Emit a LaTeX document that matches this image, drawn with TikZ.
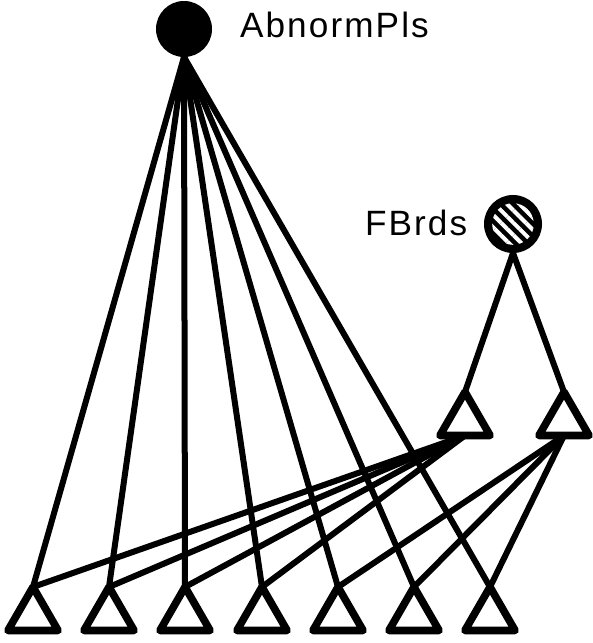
\documentclass[tikz,border=0pt]{standalone}
\usepackage{fontspec}
\usepackage{tikz}
\usetikzlibrary{shapes.geometric,patterns.meta}
\newfontfamily\labelfont[LetterSpace=6]{Liberation Sans}

\begin{document}
\begin{tikzpicture}[x=0.025cm,y=-0.025cm]
	\tikzstyle{every node}+=[inner sep=0pt, outer sep=0pt]
	\tikzstyle{tri}=[regular polygon, regular polygon sides=3, draw, fill=white, line width=1.9mm, line join=round, minimum size=14.5mm]
	\tikzstyle{edge}=[line width=1.5mm]
	\tikzstyle{lbl}=[anchor=base west, font=\labelfont\fontsize{25}{28}\selectfont]
	\useasboundingbox (0,0) rectangle (592,643);
	\node [circle, fill=black, minimum size=14mm] (abn) at (184,29) {};
	\node [lbl] (abnlbl) at (240,38) {AbnormPls};
	\node [circle, fill=black, minimum size=14.5mm, path picture={\fill [pattern={Lines[angle=-45,distance=2.2mm,line width=1mm]}, pattern color=white] (path picture bounding box.center) circle (5.2mm);}] (fbr) at (513,224) {};
	\node [lbl] (fbrlbl) at (365,235) {FBrds};
	\node [tri] (m1) at (465,421) {};
	\node [tri] (m2) at (564,421) {};
	\node [tri] (b1) at (33,616) {};
	\node [tri] (b2) at (109,616) {};
	\node [tri] (b3) at (185,616) {};
	\node [tri] (b4) at (262,616) {};
	\node [tri] (b5) at (338,616) {};
	\node [tri] (b6) at (414,616) {};
	\node [tri] (b7) at (490,616) {};
	\draw [edge] (abn.south) -- (b1.corner 1);
	\draw [edge] (abn.south) -- (b2.corner 1);
	\draw [edge] (abn.south) -- (b3.corner 1);
	\draw [edge] (abn.south) -- (b4.corner 1);
	\draw [edge] (abn.south) -- (b5.corner 1);
	\draw [edge] (abn.south) -- (b6.corner 1);
	\draw [edge] (abn.south) -- (b7.corner 1);
	\draw [edge] (fbr.south) -- (m1.corner 1);
	\draw [edge] (fbr.south) -- (m2.corner 1);
	\draw [edge] (m1.south) -- (b1.corner 1);
	\draw [edge] (m1.south) -- (b2.corner 1);
	\draw [edge] (m1.south) -- (b3.corner 1);
	\draw [edge] (m1.south) -- (b4.corner 1);
	\draw [edge] (m2.south) -- (b5.corner 1);
	\draw [edge] (m2.south) -- (b6.corner 1);
	\draw [edge] (m2.south) -- (b7.corner 1);
\end{tikzpicture}
\end{document}
